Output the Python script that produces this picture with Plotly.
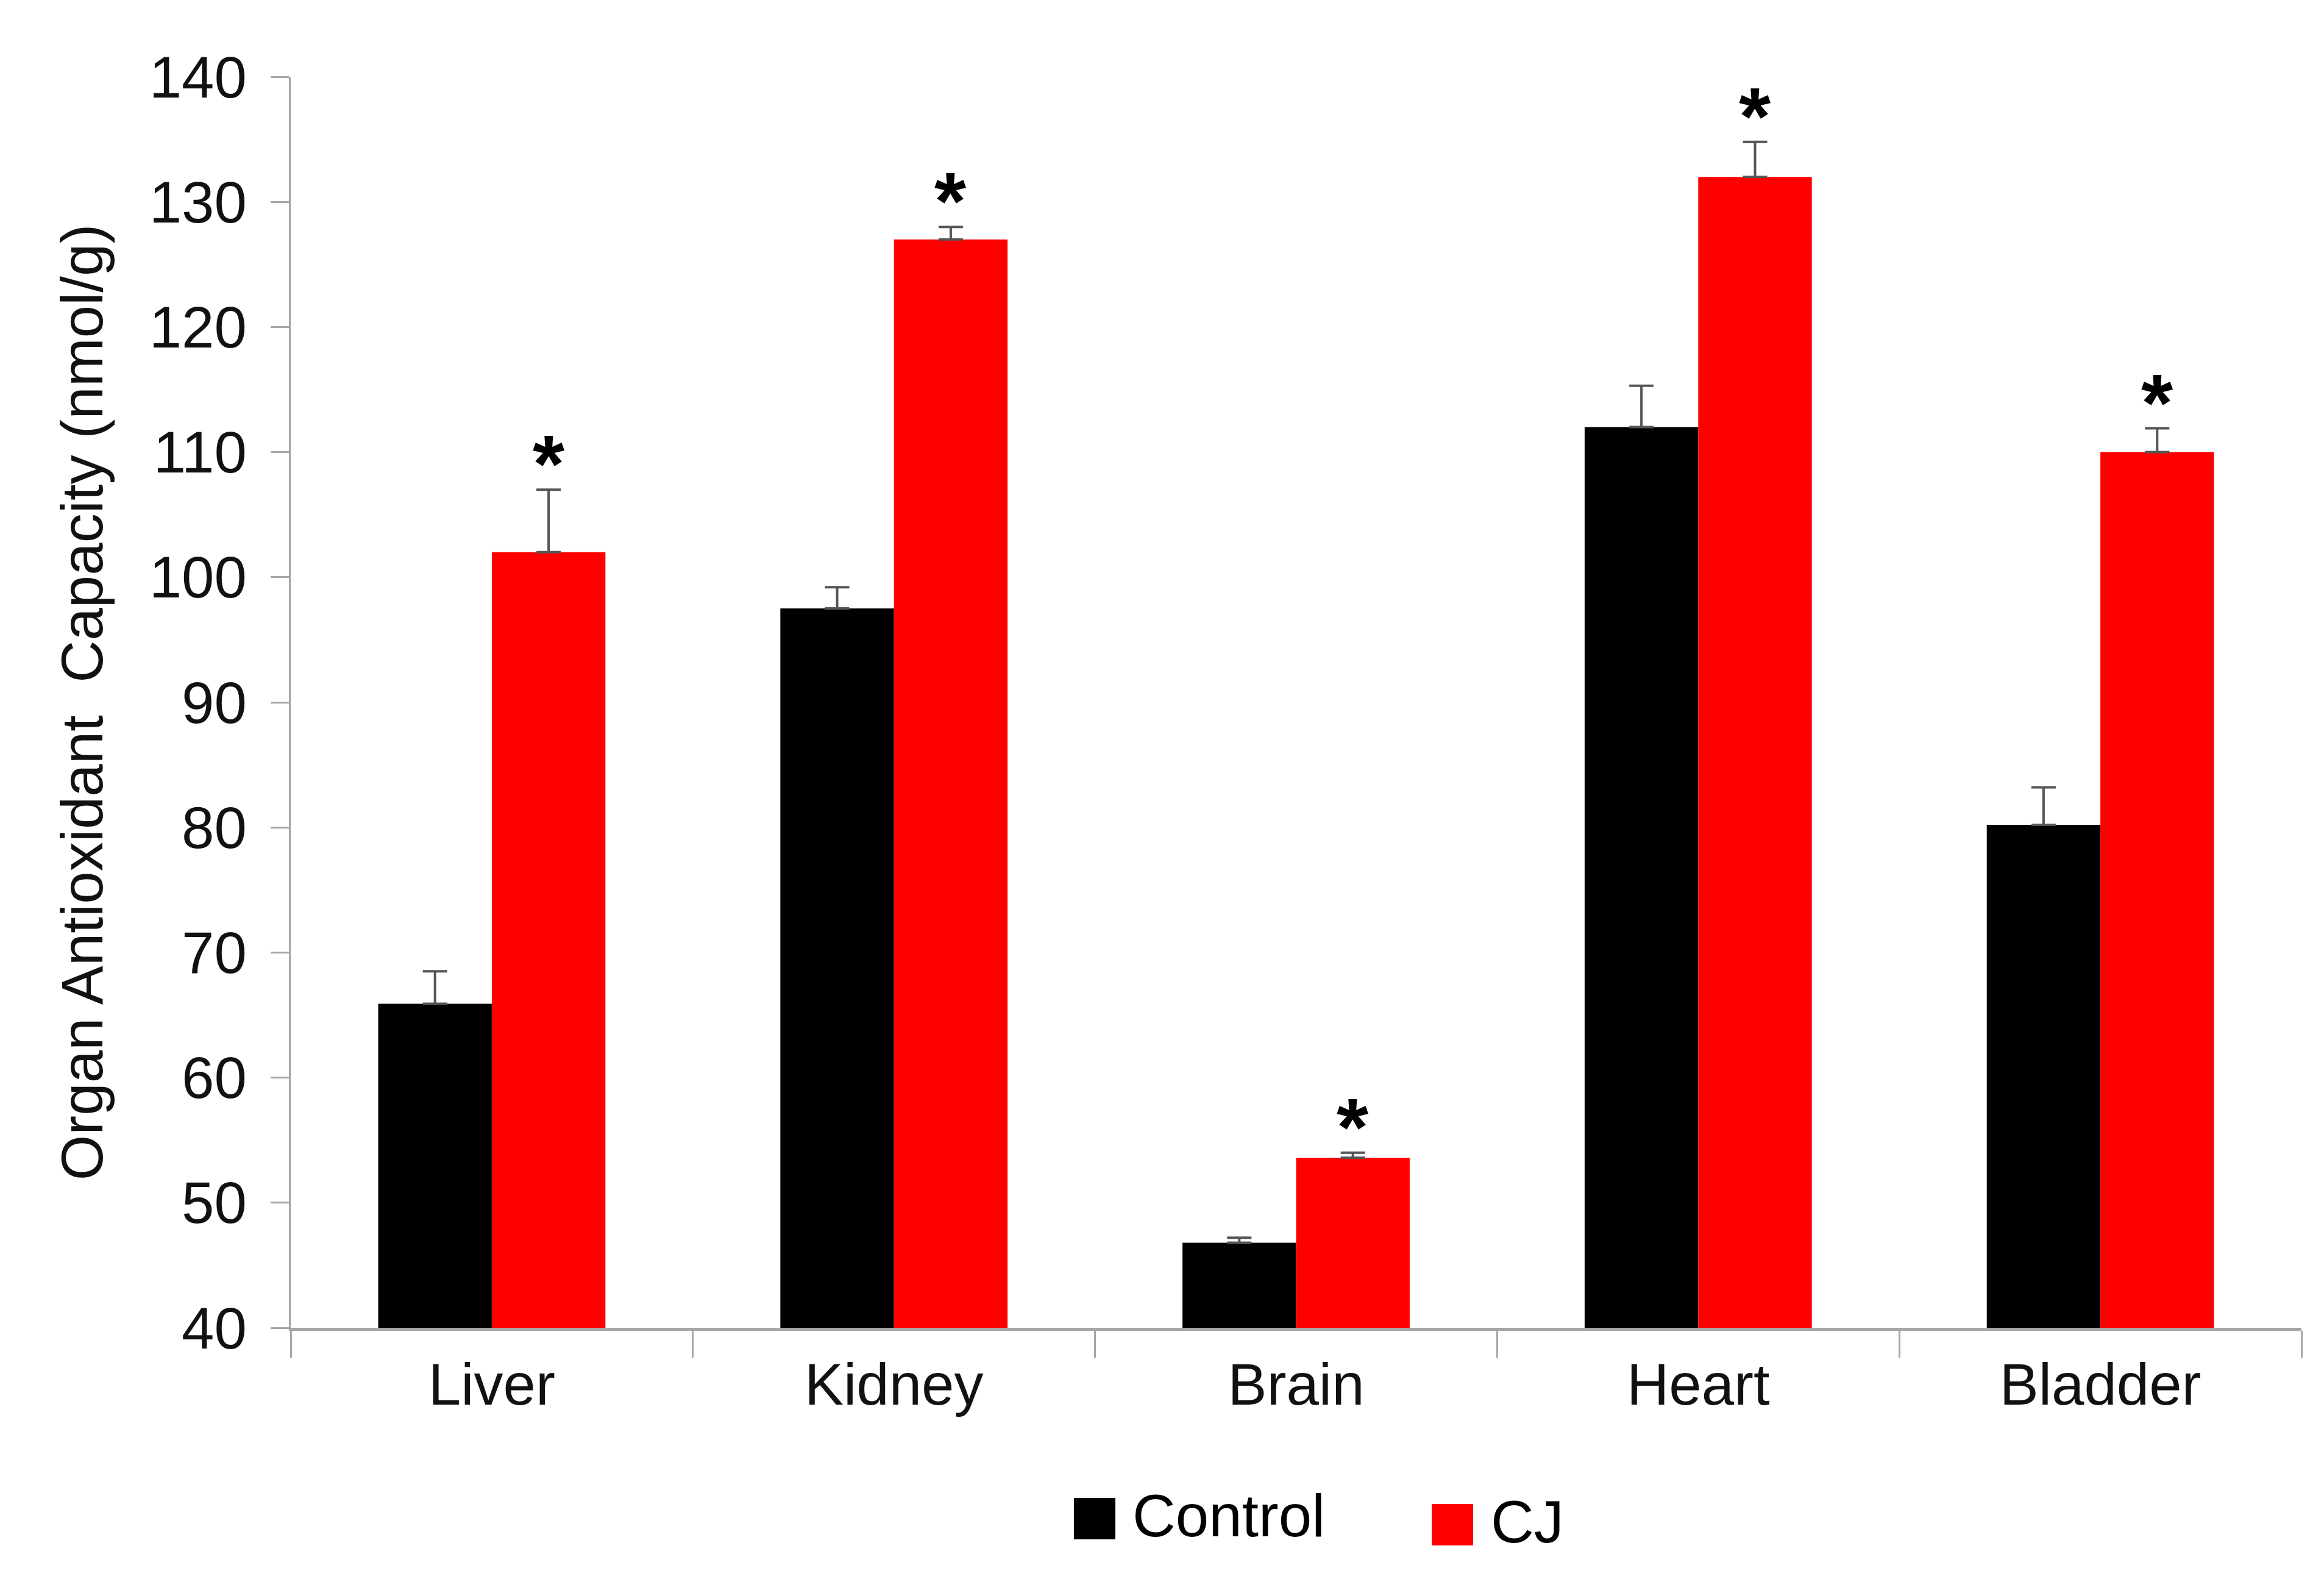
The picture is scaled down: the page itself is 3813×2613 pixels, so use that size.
import plotly.graph_objects as go

organs = ["Liver", "Kidney", "Brain", "Heart", "Bladder"]
control_vals = [65.9, 97.5, 46.8, 112.0, 80.2]
control_err = [2.6, 1.7, 0.4, 3.3, 3.0]
cj_vals = [102.0, 127.0, 53.6, 132.0, 110.0]
cj_err = [5.0, 1.0, 0.4, 2.8, 1.9]
significant = ["*", "*", "*", "*", "*"]
series_names = ["Control", "CJ"]
series_colors = ["#000000", "#FF0000"]
y_ticks = [40, 50, 60, 70, 80, 90, 100, 110, 120, 130, 140]

FONT = "Liberation Sans, Arial, sans-serif"
W, H = 3813, 2613
ML, MR, MT, MB = 477, 37, 126, 435
plot_w = W - ML - MR
plot_h = H - MT - MB

fig = go.Figure()
for name, vals, errs, col in [
    (series_names[0], control_vals, control_err, series_colors[0]),
    (series_names[1], cj_vals, cj_err, series_colors[1]),
]:
    fig.add_trace(go.Bar(
        name=name, x=organs, y=vals,
        marker=dict(color=col, line=dict(width=0)),
        error_y=dict(type="data", array=errs, arrayminus=[0] * len(errs),
                     symmetric=False, color="#555555", thickness=4, width=20),
        showlegend=False,
    ))

bar_w_px = plot_w / len(organs) * (1 - 0.435) / 2

annotations = []
for org, v, e, s in zip(organs, cj_vals, cj_err, significant):
    annotations.append(dict(
        x=org, y=v + e, xref="x", yref="y", text="<b>%s</b>" % s,
        showarrow=False, xshift=bar_w_px / 2, yshift=-34,
        xanchor="center", yanchor="bottom",
        font=dict(family=FONT, size=134, color="#000000"),
    ))


def px_to_paper_x(px):
    return (px - ML) / plot_w


def px_to_paper_y(py):
    return (H - MB - py) / plot_h


# manual legend with large keys: (label, colour, key left, key top, key size, text left, text centre y)
legend_items = [
    (series_names[0], series_colors[0], 1762, 2457, 68, 1856, 2486),
    (series_names[1], series_colors[1], 2349, 2467, 68, 2444, 2496),
]
shapes = []
for name, col, kx, ky, ks, tx, ty in legend_items:
    shapes.append(dict(type="rect", xref="paper", yref="paper",
                       x0=px_to_paper_x(kx), x1=px_to_paper_x(kx + ks),
                       y0=px_to_paper_y(ky + ks), y1=px_to_paper_y(ky),
                       fillcolor=col, line=dict(width=0)))
    annotations.append(dict(
        x=px_to_paper_x(tx), y=px_to_paper_y(ty),
        xref="paper", yref="paper", text=name, showarrow=False,
        xanchor="left", yanchor="middle",
        font=dict(family=FONT, size=98, color="#000000"),
    ))

fig.update_layout(
    width=W, height=H,
    margin=dict(l=ML, r=MR, t=MT, b=MB, pad=0),
    paper_bgcolor="white", plot_bgcolor="white",
    barmode="group", bargap=0.435, bargroupgap=0,
    font=dict(family=FONT, size=96, color="#111111"),
    showlegend=False,
    annotations=annotations, shapes=shapes,
    xaxis=dict(
        type="category", range=[-0.5, 4.5],
        showline=True, linecolor="#a6a6a6", linewidth=5,
        ticks="outside", tickson="boundaries", ticklen=44, tickwidth=3,
        tickcolor="#a6a6a6", showgrid=False, zeroline=False,
        tickfont=dict(family=FONT, size=96, color="#111111"),
        ticklabelstandoff=6,
    ),
    yaxis=dict(
        range=[40, 140], tickvals=y_ticks, ticktext=[str(t) for t in y_ticks],
        showline=True, linecolor="#a6a6a6", linewidth=3,
        ticks="outside", ticklen=30, tickwidth=3, tickcolor="#a6a6a6",
        showgrid=False, zeroline=False,
        tickfont=dict(family=FONT, size=96, color="#111111"),
        ticklabelstandoff=20,
        title=dict(text="Organ Antioxidant \u00a0Capacity (nmol/g)",
                   font=dict(family=FONT, size=96, color="#111111"), standoff=45),
    ),
)

fig.write_html("out.html", config={"displayModeBar": False},
               post_script="document.body.style.margin='0';")
